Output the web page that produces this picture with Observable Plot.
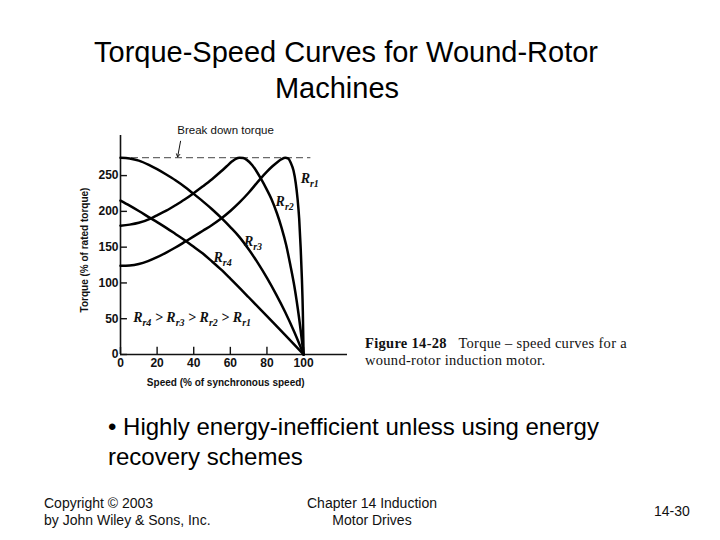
<!DOCTYPE html>
<html>
<head>
<meta charset="utf-8">
<script src="https://cdn.jsdelivr.net/npm/d3@7"></script>
<script src="https://cdn.jsdelivr.net/npm/@observablehq/plot@0.6"></script>
<style>
  html, body { margin: 0; padding: 0; background: #fff; }
  #page { position: relative; width: 720px; height: 540px; overflow: hidden; background: #fff; font-family: "Liberation Sans", Arial, sans-serif; color: #000; }
  #chart { position: absolute; left: 0; top: 0; }
  .t { position: absolute; white-space: nowrap; line-height: 1; }
  .title { font-size: 29px; }
  .bullet { font-size: 24px; left: 108px; }
  .foot { font-size: 14px; color: #111; }
  .cap { font-family: "Liberation Serif", "Times New Roman", serif; font-size: 14.5px; left: 365px; letter-spacing: 0.3px; color: #111; }
</style>
</head>
<body>
<div id="page">
  <div id="chart"></div>
  <div class="t title" style="left:0;width:692px;text-align:center;top:38px;">Torque-Speed Curves for Wound-Rotor</div>
  <div class="t title" style="left:0;width:674px;text-align:center;top:74px;">Machines</div>
  <div class="t cap" style="top:336px;"><b>Figure 14-28</b>&nbsp;&nbsp; Torque – speed curves for a</div>
  <div class="t cap" style="top:353px;">wound-rotor induction motor.</div>
  <div class="t bullet" style="top:415px;">• Highly energy-inefficient unless using energy</div>
  <div class="t bullet" style="top:445px;">recovery schemes</div>
  <div class="t foot" style="left:44px;top:496px;">Copyright © 2003</div>
  <div class="t foot" style="left:44px;top:513px;">by John Wiley &amp; Sons, Inc.</div>
  <div class="t foot" style="left:272px;width:200px;text-align:center;top:496px;">Chapter 14 Induction</div>
  <div class="t foot" style="left:272px;width:200px;text-align:center;top:513px;">Motor Drives</div>
  <div class="t foot" style="left:654px;top:504px;">14-30</div>
</div>
<script>
// ---- data ----
const xTicks = [0, 20, 40, 60, 80, 100];
const yTicks = [0, 50, 100, 150, 200, 250];
const breakdownTorque = 275;

const r1Speed  = [0, 5, 10, 15, 20, 25, 30, 35.5, 40, 45, 50, 55, 60, 65, 70, 76.4, 80, 83, 86, 88, 90, 91.5, 93, 94.5, 95.7, 96.7, 97.6, 98.4, 99.1, 99.6, 100];
const r1Torque = [124, 124.5, 126.5, 130.5, 136, 142.5, 149.5, 158, 165, 173, 181, 190, 200.5, 212.5, 226, 245.5, 255.5, 263, 269.5, 273, 275, 274, 268, 257, 240, 218, 190, 150, 105, 60, 0];

const r2Speed  = [0, 5, 10, 16.4, 20, 25, 30, 35, 39.2, 45, 50, 55, 58, 61, 63, 65, 67, 69, 72, 76.4, 80, 82.5, 85.5, 88, 90.5, 92.7, 95, 97.5, 100];
const r2Torque = [180, 181.5, 184, 190, 194.5, 201, 208.5, 216.5, 224, 235, 245, 256, 263, 270, 273.5, 275, 274.5, 272, 264.5, 247, 230, 217, 197, 177, 153, 126, 95, 52, 0];

const r3Speed  = [0, 5, 10, 15.5, 20, 25, 30, 35, 39.2, 45, 50, 55.2, 60, 65, 70, 75, 80, 85, 90, 95, 100];
const r3Torque = [275, 274, 271, 265, 259, 251.5, 243.5, 234.5, 226, 214, 203, 190.5, 178, 164, 147, 128, 107, 84, 59, 31, 0];

const r4Speed  = [0, 5, 10, 16.4, 20, 25, 30, 35.5, 40, 45, 50, 55, 60, 70, 80, 90, 100];
const r4Torque = [215, 208, 200.5, 190.5, 185, 177, 168.5, 159, 150.5, 141, 130, 118.5, 106, 80, 53.5, 27, 0];

const seriesNames = ["R_r1", "R_r2", "R_r3", "R_r4"];

// annotation anchors (data units)
const curveLabels = [
  {text: "R_r1", x: 98.4, y: 246},
  {text: "R_r2", x: 84.7, y: 214},
  {text: "R_r3", x: 67.4, y: 158},
  {text: "R_r4", x: 50.8, y: 135}
];
const orderNote = {text: "R_r4 > R_r3 > R_r2 > R_r1", x: 6.9, y: 52};
const breakdownNote = {text: "Break down torque", x: 57.4, y: 313, ax1: 32.8, ay1: 298, ax2: 31.2, ay2: 276};
const yLabel = {text: "Torque (% of rated torque)", x: -19.5, y: 146};
const xLabel = {text: "Speed (% of synchronous speed)", x: 57.5, y: -40};

// ---- build table ----
const pairs = [[r1Speed, r1Torque], [r2Speed, r2Torque], [r3Speed, r3Torque], [r4Speed, r4Torque]];
const curves = pairs.flatMap(([s, t], i) => s.map((v, j) => ({series: seriesNames[i], speed: v, torque: t[j]})));

const serif = "'Liberation Serif', 'Times New Roman', serif";

const chart = Plot.plot({
  width: 720,
  height: 400,
  marginLeft: 120,
  marginRight: 373,
  marginTop: 125,
  marginBottom: 46,
  x: {domain: [0, 124]},
  y: {domain: [0, 320]},
  style: {fontFamily: "'Liberation Sans', Arial, sans-serif", fontSize: "11px", background: "transparent", color: "#111", overflow: "visible"},
  marks: [
    Plot.axisX(xTicks, {tickSize: 0, tickPadding: 4, label: null, fontWeight: "bold", fontSize: 12}),
    Plot.axisY(yTicks, {tickSize: 0, tickPadding: 2, label: null, fontWeight: "bold", fontSize: 12}),
    Plot.ruleY([0], {x1: 0, x2: 124, stroke: "#111", strokeWidth: 1.6}),
    Plot.ruleX([0], {y1: 0, y2: 306, stroke: "#111", strokeWidth: 1.6}),
    Plot.ruleY(yTicks, {x1: 0, x2: 3.8, stroke: "#111", strokeWidth: 1.4}),
    Plot.ruleX(xTicks, {y1: 0, y2: 10, stroke: "#111", strokeWidth: 1.4}),
    Plot.ruleY([breakdownTorque], {x1: 0, x2: 104, stroke: "#444", strokeWidth: 1, strokeDasharray: "7,4"}),
    Plot.line(curves, {x: "speed", y: "torque", z: "series", stroke: "#000", strokeWidth: 2.5, curve: "monotone-x"}),
    Plot.text(curveLabels, {x: "x", y: "y", text: "text", textAnchor: "start", fontFamily: serif, fontStyle: "italic", fontWeight: "bold", fontSize: 14, fill: "#111"}),
    Plot.text([orderNote], {x: "x", y: "y", text: "text", textAnchor: "start", fontFamily: serif, fontStyle: "italic", fontWeight: "bold", fontSize: 14, fill: "#111"}),
    Plot.text([breakdownNote], {x: "x", y: "y", text: "text", fontSize: 11.5, fill: "#111"}),
    Plot.arrow([breakdownNote], {x1: "ax1", y1: "ay1", x2: "ax2", y2: "ay2", stroke: "#111", strokeWidth: 1, headLength: 5}),
    Plot.text([yLabel], {x: "x", y: "y", text: "text", rotate: -90, fontWeight: "bold", fontSize: 10, fill: "#111"}),
    Plot.text([xLabel], {x: "x", y: "y", text: "text", fontWeight: "bold", fontSize: 10, fill: "#111"})
  ]
});

// turn "R_r1" into R with a subscript, keeping real text
chart.querySelectorAll("text").forEach(t => {
  const s = t.textContent;
  if (!/R_r\d/.test(s) || t.querySelector("tspan")) return;
  const parts = s.split(/(R_r\d)/);
  while (t.firstChild) t.removeChild(t.firstChild);
  const NS = "http://www.w3.org/2000/svg";
  let shifted = false;
  for (const p of parts) {
    if (!p) continue;
    const m = p.match(/^R_(r\d)$/);
    if (m) {
      const a = document.createElementNS(NS, "tspan");
      a.textContent = "R";
      if (shifted) a.setAttribute("dy", "-4");
      t.appendChild(a);
      const b = document.createElementNS(NS, "tspan");
      b.textContent = m[1];
      b.setAttribute("dy", "4");
      b.setAttribute("font-size", "10");
      t.appendChild(b);
      shifted = true;
    } else {
      const c = document.createElementNS(NS, "tspan");
      c.textContent = p;
      if (shifted) { c.setAttribute("dy", "-4"); shifted = false; }
      t.appendChild(c);
    }
  }
});

document.getElementById("chart").appendChild(chart);
</script>
</body>
</html>
